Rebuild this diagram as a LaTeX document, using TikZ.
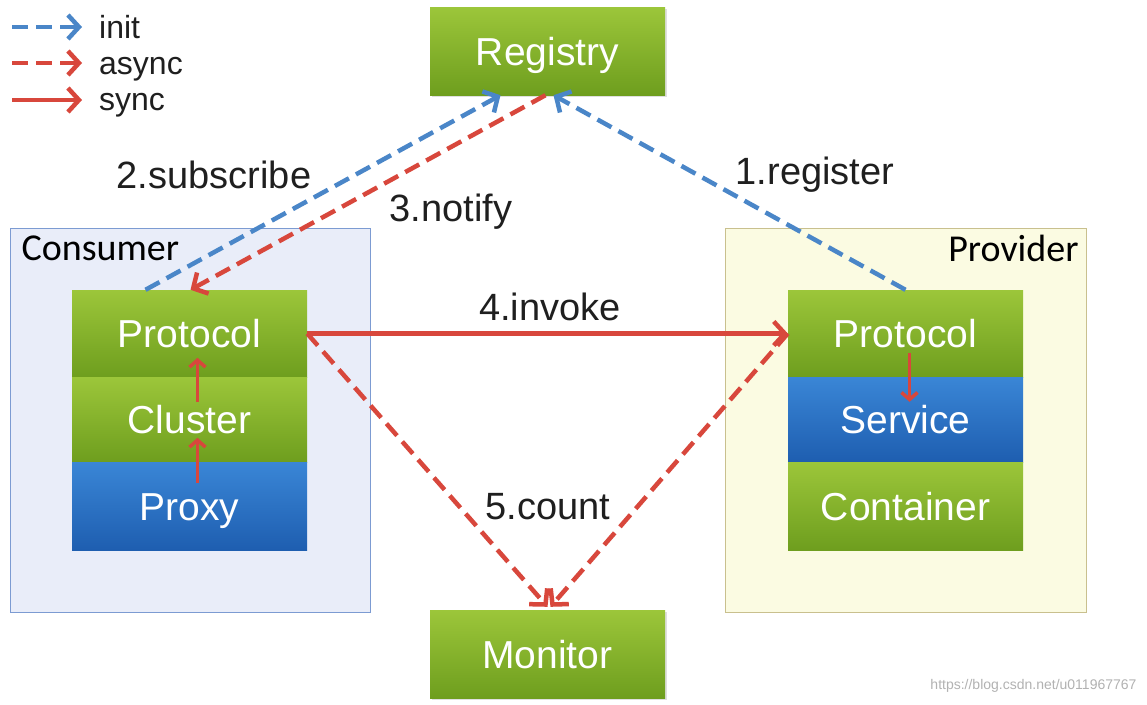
\documentclass[tikz,border=0pt]{standalone}
\usepackage{fontspec}
\setmainfont{Liberation Sans}
\newfontfamily\calfont{Carlito}
\usetikzlibrary{arrows.meta,calc,shadows}
\definecolor{gtop}{HTML}{9CC63A}
\definecolor{gbot}{HTML}{6E9E1E}
\definecolor{btop}{HTML}{3A86D6}
\definecolor{bbot}{HTML}{1E5EB0}
\definecolor{ared}{HTML}{D8473C}
\definecolor{ablue}{HTML}{4A86C8}
\definecolor{cfill}{HTML}{E9EDF9}
\definecolor{cline}{HTML}{7C9BD2}
\definecolor{pfill}{HTML}{FBFBE2}
\definecolor{pline}{HTML}{C9C08E}
\tikzset{
  boxfont/.style={font=\fontsize{39}{42}\selectfont, text height=28pt, text depth=0pt},
  gbox/.style={rectangle, minimum width=235pt, inner sep=0pt, text=white,
    top color=gtop, bottom color=gbot, boxfont},
  bbox/.style={rectangle, minimum width=235pt, inner sep=0pt, text=white,
    top color=btop, bottom color=bbot, boxfont},
  lbl/.style={font=\fontsize{38}{40}\selectfont, text=black!88},
  leg/.style={font=\fontsize{32}{34}\selectfont, text=black!88, anchor=base west, inner sep=0pt},
  tip/.style={-{Straight Barb[length=11pt,width=24pt,line width=4.5pt]}},
  initarr/.style={tip, draw=ablue, line width=4.5pt, dash pattern=on 16pt off 8pt},
  asyncarr/.style={tip, draw=ared, line width=4.5pt, dash pattern=on 16pt off 8pt},
  syncarr/.style={tip, draw=ared, line width=4.5pt},
  inner/.style={-{Straight Barb[length=7pt,width=16pt,line width=3.5pt]}, draw=ared, line width=3.5pt},
}
\begin{document}
\begin{tikzpicture}[x=1pt,y=-1pt]
\useasboundingbox[fill=white] (0,0) rectangle (1147,704);
% containers
\node[draw=cline, fill=cfill, line width=1pt, minimum width=360pt, minimum height=384pt, inner sep=0pt] (consumer) at (190,420) {};
\node[draw=pline, fill=pfill, line width=1pt, minimum width=361pt, minimum height=384pt, inner sep=0pt] (provider) at (905.5,420) {};
\node[anchor=west, font=\calfont\fontsize{38}{40}\selectfont] (clabel) at (18,248) {Consumer};
\node[anchor=east, font=\calfont\fontsize{38}{40}\selectfont] (plabel) at (1082,248) {Provider};
% registry / monitor
\node[gbox, minimum height=88pt, drop shadow={opacity=0.25,shadow xshift=2pt,shadow yshift=-2pt}] (reg) at (547.5,51) {Registry};
\node[gbox, minimum height=88pt, drop shadow={opacity=0.25,shadow xshift=2pt,shadow yshift=-2pt}] (mon) at (547.5,654) {Monitor};
% consumer stack
\node[gbox, minimum height=87pt] (cprot) at (189.5,333.5) {Protocol};
\node[gbox, minimum height=85pt] (cclu) at (189.5,419.5) {Cluster};
\node[bbox, minimum height=88pt] (cprox) at (189.5,506) {Proxy};
% provider stack
\node[gbox, minimum height=87pt] (pprot) at (905.5,333.5) {Protocol};
\node[bbox, minimum height=85pt] (pserv) at (905.5,419.5) {Service};
\node[gbox, minimum height=88pt] (pcont) at (905.5,506) {Container};
% inner arrows
\draw[inner] ([xshift=8pt,yshift=-21pt]cprox.north) -- ([xshift=8pt,yshift=24pt]cprox.north);
\draw[inner] ([xshift=8pt,yshift=-25pt]cclu.north) -- ([xshift=8pt,yshift=19pt]cclu.north);
\draw[inner] ([xshift=4pt,yshift=24pt]pserv.north) -- ([xshift=4pt,yshift=-25pt]pserv.north);
% main connectors
\draw[initarr] ([xshift=-44pt]cprot.north) -- ([xshift=-47pt]reg.south);
\draw[asyncarr] ([xshift=-2pt]reg.south) -- ([xshift=1pt]cprot.north);
\draw[initarr] ([xshift=0pt]pprot.north) -- ([xshift=6pt]reg.south);
\draw[syncarr] (cprot.east) -- (pprot.west);
\draw[asyncarr] (cprot.east) -- ([xshift=0pt,yshift=3pt]mon.north);
\draw[asyncarr] (pprot.west) -- ([xshift=3pt,yshift=3pt]mon.north);
% labels
\node[lbl] (l1) at (815,175) {1.register};
\node[lbl] (l2) at (214,175) {2.subscribe};
\node[lbl] (l3) at (451,212) {3.notify};
\node[lbl] (l4) at (550,307) {4.invoke};
\node[lbl] (l5) at (548,507) {5.count};
% legend
\coordinate (i1) at (12,27); \coordinate (i2) at (82,27);
\coordinate (a1) at (12,63); \coordinate (a2) at (82,63);
\coordinate (s1) at (12,100); \coordinate (s2) at (82,100);
\draw[initarr] (i1) -- (i2);
\draw[asyncarr] (a1) -- (a2);
\draw[syncarr] (s1) -- (s2);
\node[leg] (tinit) at (99,38.5) {init};
\node[leg] (tasync) at (99,74.5) {async};
\node[leg] (tsync) at (99,110.5) {sync};
% watermark
\node[anchor=east, text=black!30, font=\fontsize{14}{16}\selectfont] (wm) at (1140,686) {https://blog.csdn.net/u011967767};
\end{tikzpicture}
\end{document}
